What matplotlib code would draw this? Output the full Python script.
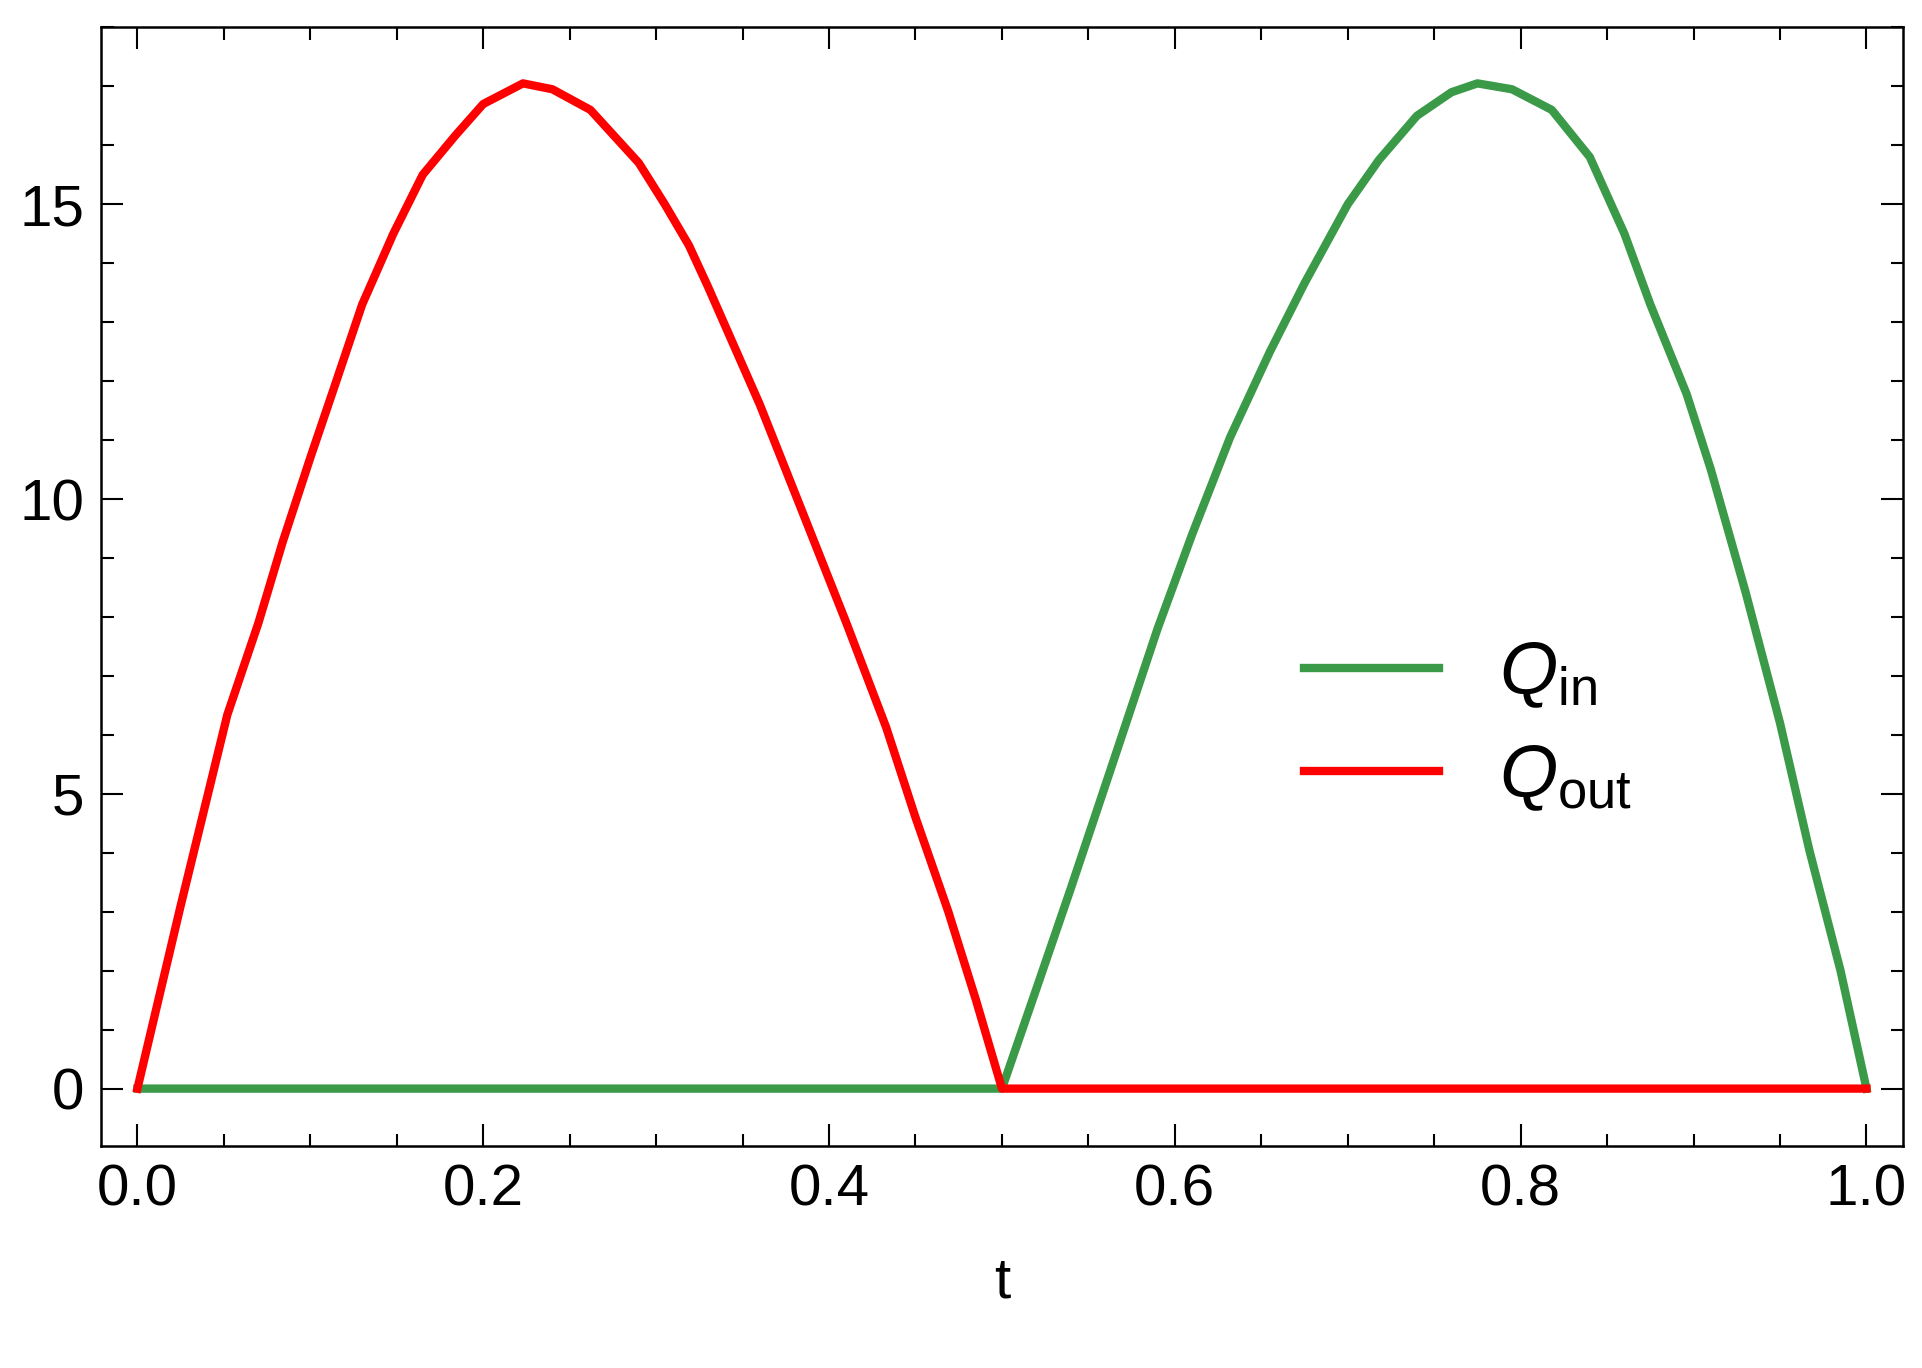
import numpy as np
import matplotlib.pyplot as plt
from matplotlib.ticker import MultipleLocator

plt.rcParams['font.family'] = ['Liberation Sans', 'DejaVu Sans']
plt.rcParams['mathtext.fontset'] = 'custom'
plt.rcParams['mathtext.rm'] = 'Liberation Sans'
plt.rcParams['mathtext.it'] = 'Liberation Sans:italic'

# values
t_out = [0, 0.025, 0.052, 0.07, 0.084, 0.1, 0.1125, 0.13, 0.148, 0.165, 0.184, 0.2, 0.223, 0.24,
         0.262, 0.29, 0.305, 0.319, 0.33, 0.348, 0.36, 0.383, 0.41, 0.433, 0.45, 0.469, 0.485, 0.5, 1.0]
q_out = [0, 3.1, 6.34, 7.9, 9.27, 10.7, 11.78, 13.3, 14.5, 15.5, 16.17, 16.7, 17.05, 16.95,
         16.6, 15.7, 15.0, 14.3, 13.6, 12.4, 11.6, 9.9, 7.9, 6.13, 4.6, 3.0, 1.5, 0, 0]
t_in = [0, 0.5, 0.52, 0.54, 0.565, 0.59, 0.61, 0.632, 0.655, 0.675, 0.7, 0.718, 0.74, 0.76, 0.775,
        0.795, 0.818, 0.84, 0.86, 0.875, 0.896, 0.91, 0.93, 0.95, 0.967, 0.985, 1.0]
q_in = [0, 0, 1.7, 3.41, 5.6, 7.8, 9.4, 11.05, 12.5, 13.66, 15.0, 15.75, 16.5, 16.9, 17.05,
        16.95, 16.6, 15.8, 14.5, 13.3, 11.78, 10.5, 8.43, 6.2, 4.04, 2.0, 0]

fig = plt.figure(figsize=(19.22, 13.68), dpi=100)
ax = fig.add_axes([0.0526, 0.162, 0.9374, 0.818])

ax.plot(t_in, q_in, color='#3a9a48', lw=6, label=r'$Q_{\mathrm{in}}$', zorder=2)
ax.plot(t_out, q_out, color='#ff0000', lw=6, label=r'$Q_{\mathrm{out}}$', zorder=3)

ax.set_xlim(-0.021, 1.021)
ax.set_ylim(-0.98, 18.0)
ax.xaxis.set_minor_locator(MultipleLocator(0.05))
ax.yaxis.set_major_locator(MultipleLocator(5))
ax.yaxis.set_minor_locator(MultipleLocator(1))
ax.set_xticks([0, 0.2, 0.4, 0.6, 0.8, 1.0])
ax.set_xticklabels(['0.0', '0.2', '0.4', '0.6', '0.8', '1.0'])
ax.tick_params(which='both', direction='in', top=True, right=True, labelsize=42, width=1.5)
ax.tick_params(which='major', length=16, pad=12)
ax.tick_params(which='minor', length=9)
for s in ax.spines.values():
    s.set_linewidth(1.8)
ax.set_xlabel('t', fontsize=42, labelpad=28)

ax.legend(loc='center left', bbox_to_anchor=(0.63, 0.375), frameon=False, fontsize=54,
          handlelength=1.8, handletextpad=0.8, labelspacing=0.45)

fig.savefig('out.png', dpi=100)
